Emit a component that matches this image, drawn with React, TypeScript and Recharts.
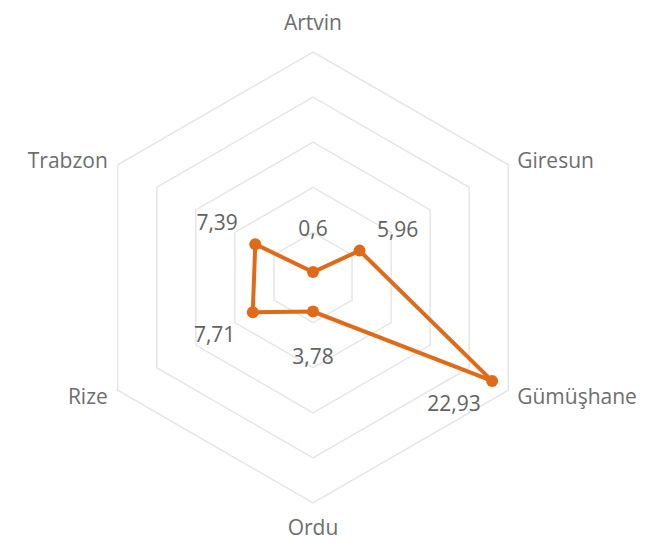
import React from 'react';
import { RadarChart, Radar, PolarGrid, PolarAngleAxis, PolarRadiusAxis } from 'recharts';

const provinces = ['Artvin', 'Giresun', 'Gümüşhane', 'Ordu', 'Rize', 'Trabzon'];
const values = [0.6, 5.96, 22.93, 3.78, 7.71, 7.39];
const radiusTicks = [0, 5, 10, 15, 20, 25];

const ORANGE = '#df6a17';
const TEXT = '#6e6e6e';
const FONT = '"Open Sans", "Noto Sans", sans-serif';

const data = provinces.map((name, i) => ({ name, value: values[i] }));

const formatValue = (v: number) => String(v).replace('.', ',');

// category label, pushed a bit away from the hexagon corner
const AngleTick = (props: any) => {
  const { x, y, cy, textAnchor, payload } = props;
  let dy = 0;
  let dx = 0;
  if (textAnchor === 'middle') {
    dy = y < cy ? -22 : 16;
  } else {
    dx = textAnchor === 'start' ? 2 : -3;
    dy = y < cy ? -1 : 2;
  }
  return (
    <text
      x={x + dx}
      y={y + dy}
      textAnchor={textAnchor}
      dominantBaseline="central"
      fill={TEXT}
      fontSize={21}
      fontFamily={FONT}
    >
      {payload.value}
    </text>
  );
};

// dot plus value label; labels sit outward from the point,
// except near the outer edge where they flip sideways
const ValueDot = (props: any) => {
  const { cx, cy, index } = props;
  // recharts starts at the top (90deg) and goes clockwise
  const angle = ((90 - (index * 360) / provinces.length) * Math.PI) / 180;
  const v = values[index];
  let ux = Math.cos(angle);
  const uy = -Math.sin(angle);
  if (v > 20) ux = -ux;
  const dist = 44;
  return (
    <g key={`dot-${index}`}>
      <circle cx={cx} cy={cy} r={6} fill={ORANGE} stroke="none" />
      <text
        x={cx + ux * dist}
        y={cy + uy * dist}
        textAnchor="middle"
        dominantBaseline="central"
        fill="#626262"
        fontSize={21}
        fontFamily={FONT}
      >
        {formatValue(v)}
      </text>
    </g>
  );
};

export default function App() {
  return (
    <div style={{ position: 'absolute', left: 0, top: 0, width: 655, height: 546, background: '#fff' }}>
      <RadarChart width={655} height={546} data={data} cx={313} cy={277.5} outerRadius={225.5}>
        <PolarGrid gridType="polygon" radialLines={false} stroke="#e6e6e6" strokeWidth={1.5} />
        <PolarAngleAxis dataKey="name" tick={AngleTick} tickLine={false} axisLine={false} />
        <PolarRadiusAxis
          domain={[0, 25]}
          ticks={radiusTicks as any}
          tickCount={6}
          axisLine={false}
          tick={false}
        />
        <Radar
          dataKey="value"
          stroke={ORANGE}
          strokeWidth={4}
          fill={ORANGE}
          fillOpacity={0}
          dot={ValueDot}
          isAnimationActive={false}
        />
      </RadarChart>
    </div>
  );
}
